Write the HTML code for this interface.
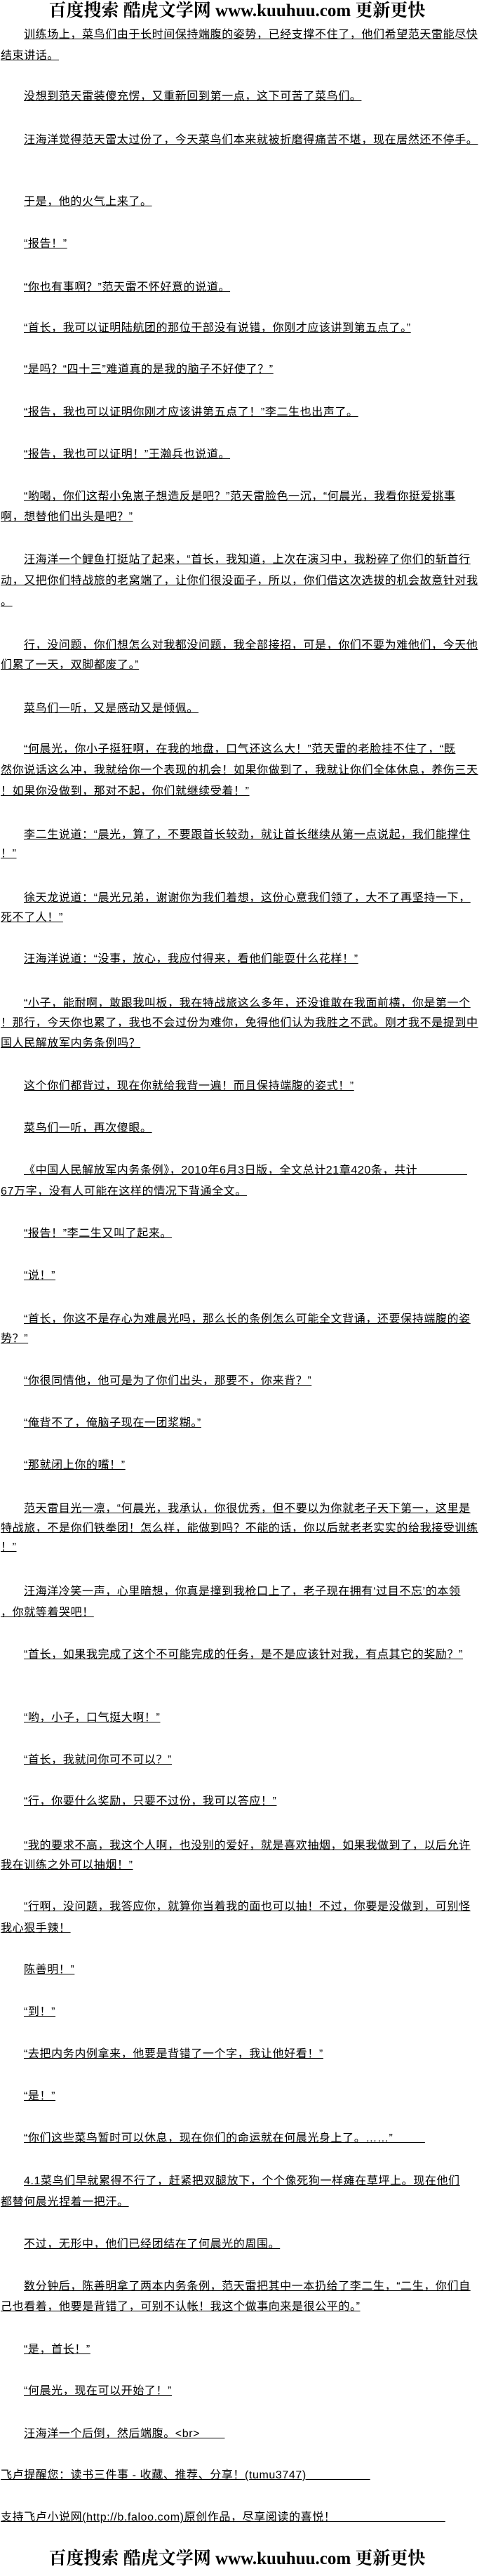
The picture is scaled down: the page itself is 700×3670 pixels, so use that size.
<!DOCTYPE html>
<html><head><meta charset="utf-8">
<style>
html,body{margin:0;padding:0;background:#fff;}
body{width:700px;height:3670px;position:relative;overflow:hidden;font-family:"Liberation Sans","WenQuanYi Zen Hei","Noto Sans CJK SC",sans-serif;color:#000;}
.l{position:absolute;left:1px;font-size:16px;letter-spacing:0.6px;line-height:18px;white-space:pre;text-decoration:underline;}
.i{left:34px;}
.b{position:absolute;left:38px;width:600px;text-align:center;font-family:"Liberation Serif","Noto Serif CJK SC",serif;font-weight:bold;font-size:25px;line-height:32px;white-space:nowrap;}
</style></head><body>
<div class="b" style="top:0px">百度搜索 酷虎文学网 www.kuuhuu.com 更新更快</div>
<div class="l i" style="top:41px">训练场上，菜鸟们由于长时间保持端腹的姿势，已经支撑不住了，他们希望范天雷能尽快</div>
<div class="l" style="top:71px">结束讲话。</div>
<div class="l i" style="top:129px">没想到范天雷装傻充愣，又重新回到第一点，这下可苦了菜鸟们。</div>
<div class="l i" style="top:191px">汪海洋觉得范天雷太过份了，今天菜鸟们本来就被折磨得痛苦不堪，现在居然还不停手。</div>
<div class="l i" style="top:279px">于是，他的火气上来了。</div>
<div class="l i" style="top:339px">“报告！”</div>
<div class="l i" style="top:401px">“你也有事啊？”范天雷不怀好意的说道。</div>
<div class="l i" style="top:459px">“首长，我可以证明陆航团的那位干部没有说错，你刚才应该讲到第五点了。”</div>
<div class="l i" style="top:518px">“是吗？“四十三”难道真的是我的脑子不好使了？”</div>
<div class="l i" style="top:579px">“报告，我也可以证明你刚才应该讲第五点了！”李二生也出声了。</div>
<div class="l i" style="top:639px">“报告，我也可以证明！”王瀚兵也说道。</div>
<div class="l i" style="top:699px">“哟喝，你们这帮小兔崽子想造反是吧？”范天雷脸色一沉，“何晨光，我看你挺爱挑事</div>
<div class="l" style="top:728px">啊，想替他们出头是吧？”</div>
<div class="l i" style="top:789px">汪海洋一个鲤鱼打挺站了起来，“首长，我知道，上次在演习中，我粉碎了你们的斩首行</div>
<div class="l" style="top:819px">动，又把你们特战旅的老窝端了，让你们很没面子，所以，你们借这次选拔的机会故意针对我</div>
<div class="l" style="top:849px">。</div>
<div class="l i" style="top:911px">行，没问题，你们想怎么对我都没问题，我全部接招，可是，你们不要为难他们，今天他</div>
<div class="l" style="top:939px">们累了一天，双脚都废了。”</div>
<div class="l i" style="top:1001px">菜鸟们一听，又是感动又是倾佩。</div>
<div class="l i" style="top:1059px">“何晨光，你小子挺狂啊，在我的地盘，口气还这么大！”范天雷的老脸挂不住了，“既</div>
<div class="l" style="top:1089px">然你说话这么冲，我就给你一个表现的机会！如果你做到了，我就让你们全体休息，养伤三天</div>
<div class="l" style="top:1119px">！如果你没做到，那对不起，你们就继续受着！”</div>
<div class="l i" style="top:1181px">李二生说道：“晨光，算了，不要跟首长较劲，就让首长继续从第一点说起，我们能撑住</div>
<div class="l" style="top:1208px">！”</div>
<div class="l i" style="top:1271px">徐天龙说道：“晨光兄弟，谢谢你为我们着想，这份心意我们领了，大不了再坚持一下，</div>
<div class="l" style="top:1299px">死不了人！”</div>
<div class="l i" style="top:1358px">汪海洋说道：“没事，放心，我应付得来，看他们能耍什么花样！”</div>
<div class="l i" style="top:1421px">“小子，能耐啊，敢跟我叫板，我在特战旅这么多年，还没谁敢在我面前横，你是第一个</div>
<div class="l" style="top:1449px">！那行，今天你也累了，我也不会过份为难你，免得他们认为我胜之不武。刚才我不是提到中</div>
<div class="l" style="top:1478px">国人民解放军内务条例吗？</div>
<div class="l i" style="top:1539px">这个你们都背过，现在你就给我背一遍！而且保持端腹的姿式！”</div>
<div class="l i" style="top:1599px">菜鸟们一听，再次傻眼。</div>
<div class="l i" style="top:1659px">《中国人民解放军内务条例》，2010年6月3日版，全文总计21章420条，共计              </div>
<div class="l" style="top:1689px">67万字，没有人可能在这样的情况下背通全文。</div>
<div class="l i" style="top:1749px">“报告！”李二生又叫了起来。</div>
<div class="l i" style="top:1809px">“说！”</div>
<div class="l i" style="top:1871px">“首长，你这不是存心为难晨光吗，那么长的条例怎么可能全文背诵，还要保持端腹的姿</div>
<div class="l" style="top:1899px">势？”</div>
<div class="l i" style="top:1959px">“你很同情他，他可是为了你们出头，那要不，你来背？”</div>
<div class="l i" style="top:2019px">“俺背不了，俺脑子现在一团浆糊。”</div>
<div class="l i" style="top:2079px">“那就闭上你的嘴！”</div>
<div class="l i" style="top:2141px">范天雷目光一凛，“何晨光，我承认，你很优秀，但不要以为你就老子天下第一，这里是</div>
<div class="l" style="top:2169px">特战旅，不是你们铁拳团！怎么样，能做到吗？不能的话，你以后就老老实实的给我接受训练</div>
<div class="l" style="top:2196px">！”</div>
<div class="l i" style="top:2259px">汪海洋冷笑一声，心里暗想，你真是撞到我枪口上了，老子现在拥有‘过目不忘’的本领</div>
<div class="l" style="top:2289px">，你就等着哭吧！</div>
<div class="l i" style="top:2349px">“首长，如果我完成了这个不可能完成的任务，是不是应该针对我，有点其它的奖励？”</div>
<div class="l i" style="top:2439px">“哟，小子，口气挺大啊！”</div>
<div class="l i" style="top:2499px">“首长，我就问你可不可以？”</div>
<div class="l i" style="top:2558px">“行，你要什么奖励，只要不过份，我可以答应！”</div>
<div class="l i" style="top:2621px">“我的要求不高，我这个人啊，也没别的爱好，就是喜欢抽烟，如果我做到了，以后允许</div>
<div class="l" style="top:2649px">我在训练之外可以抽烟！”</div>
<div class="l i" style="top:2708px">“行啊，没问题，我答应你，就算你当着我的面也可以抽！不过，你要是没做到，可别怪</div>
<div class="l" style="top:2739px">我心狠手辣！</div>
<div class="l i" style="top:2798px">陈善明！”</div>
<div class="l i" style="top:2858px">“到！”</div>
<div class="l i" style="top:2918px">“去把内务内例拿来，他要是背错了一个字，我让他好看！”</div>
<div class="l i" style="top:2978px">“是！”</div>
<div class="l i" style="top:3038px">“你们这些菜鸟暂时可以休息，现在你们的命运就在何晨光身上了。……”         </div>
<div class="l i" style="top:3099px">4.1菜鸟们早就累得不行了，赶紧把双腿放下，个个像死狗一样瘫在草坪上。现在他们</div>
<div class="l" style="top:3129px">都替何晨光捏着一把汗。</div>
<div class="l i" style="top:3189px">不过，无形中，他们已经团结在了何晨光的周围。</div>
<div class="l i" style="top:3249px">数分钟后，陈善明拿了两本内务条例，范天雷把其中一本扔给了李二生，“二生，你们自</div>
<div class="l" style="top:3278px">己也看着，他要是背错了，可别不认帐！我这个做事向来是很公平的。”</div>
<div class="l i" style="top:3339px">“是，首长！”</div>
<div class="l i" style="top:3398px">“何晨光，现在可以开始了！”</div>
<div class="l i" style="top:3459px">汪海洋一个后倒，然后端腹。&lt;br&gt;       </div>
<div class="l" style="top:3518px">飞卢提醒您：读书三件事 - 收藏、推荐、分享！(tumu3747)                  </div>
<div class="l" style="top:3578px">支持飞卢小说网(http://b.faloo.com)原创作品，尽享阅读的喜悦！                               </div>
<div class="b" style="top:3630px">百度搜索 酷虎文学网 www.kuuhuu.com 更新更快</div>
</body></html>
